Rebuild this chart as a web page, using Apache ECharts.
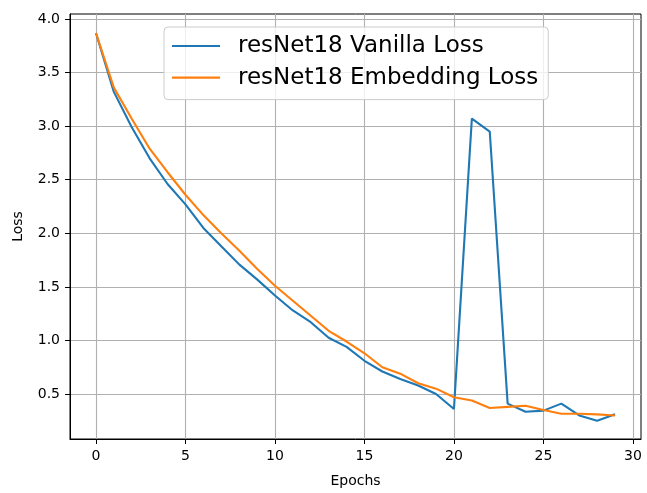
<!DOCTYPE html>
<html>
<head>
<meta charset="utf-8">
<script src="https://cdn.jsdelivr.net/npm/echarts@6/dist/echarts.min.js"></script>
<style>html,body{margin:0;padding:0;background:#fff}#c{width:647px;height:493px}</style>
</head>
<body>
<div id="c"></div>
<script>
const epochs = [0,1,2,3,4,5,6,7,8,9,10,11,12,13,14,15,16,17,18,19,20,21,22,23,24,25,26,27,28,29];
const vanillaLoss = [3.87,3.32,2.99,2.70,2.46,2.27,2.05,1.88,1.71,1.57,1.42,1.28,1.17,1.025,0.94,0.81,0.71,0.64,0.58,0.50,0.36,3.07,2.95,0.41,0.335,0.345,0.41,0.30,0.25,0.31];
const embeddingLoss = [3.87,3.36,3.07,2.79,2.57,2.36,2.17,2.00,1.84,1.67,1.51,1.37,1.23,1.09,0.99,0.88,0.75,0.69,0.60,0.55,0.47,0.44,0.37,0.38,0.39,0.35,0.315,0.315,0.31,0.30];
const xTicks = [0,5,10,15,20,25,30];
const yTicks = [0.5,1.0,1.5,2.0,2.5,3.0,3.5,4.0];
const seriesNames = ['resNet18 Vanilla Loss','resNet18 Embedding Loss'];

const font = 'DejaVu Sans';
const chart = echarts.init(document.getElementById('c'), null, {renderer:'canvas'});
chart.setOption({
  animation:false,
  textStyle:{fontFamily:font},
  grid:{left:70,right:6,top:14,bottom:54,show:true,borderColor:'#000',borderWidth:1,backgroundColor:'transparent'},
  legend:{
    orient:'vertical', left:164, top:27,
    padding:[6,10,9,8], itemGap:5.6, itemWidth:48, itemHeight:2.2, itemTextGap:5,
    icon:'rect',
    backgroundColor:'rgba(255,255,255,0.8)', borderColor:'#cccccc', borderWidth:1, borderRadius:4,
    textStyle:{fontFamily:font,fontSize:23,color:'#000',lineHeight:26,padding:[0,0,0,13]},
    data:seriesNames
  },
  xAxis:{
    type:'value', min:-1.45, max:30.45,
    name:'Epochs', nameLocation:'middle', nameGap:35,
    nameTextStyle:{fontFamily:font,fontSize:14,color:'#000'},
    axisLine:{show:true,onZero:false,lineStyle:{color:'#000',width:1}},
    axisTick:{show:true,length:5,lineStyle:{color:'#000',width:1},customValues:xTicks},
    axisLabel:{customValues:xTicks,fontFamily:font,fontSize:14,color:'#000',margin:10},
    splitLine:{show:true,lineStyle:{color:'#b0b0b0',width:1.1}}
  },
  yAxis:{
    type:'value', min:0.08, max:4.047,
    name:'Loss', nameLocation:'middle', nameGap:45,
    nameTextStyle:{fontFamily:font,fontSize:14,color:'#000'},
    axisLine:{show:true,onZero:false,lineStyle:{color:'#000',width:1}},
    axisTick:{show:true,length:5,lineStyle:{color:'#000',width:1},customValues:yTicks},
    axisLabel:{customValues:yTicks,fontFamily:font,fontSize:14,color:'#000',margin:10,formatter:v=>v.toFixed(1)},
    splitLine:{show:true,lineStyle:{color:'#b0b0b0',width:1.1}}
  },
  series:[
    {name:seriesNames[0],type:'line',data:epochs.map((e,i)=>[e,vanillaLoss[i]]),showSymbol:false,symbol:'none',lineStyle:{color:'#1f77b4',width:2.1},itemStyle:{color:'#1f77b4'},z:2},
    {name:seriesNames[1],type:'line',data:epochs.map((e,i)=>[e,embeddingLoss[i]]),showSymbol:false,symbol:'none',lineStyle:{color:'#ff7f0e',width:2.1},itemStyle:{color:'#ff7f0e'},z:3}
  ]
});
</script>
</body>
</html>
